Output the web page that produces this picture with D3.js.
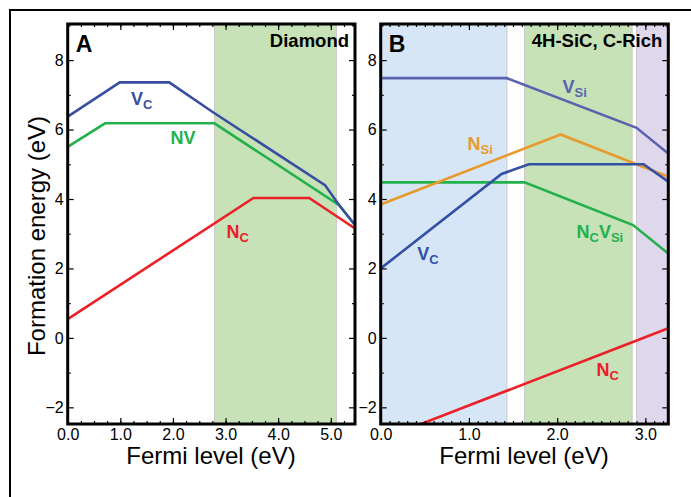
<!DOCTYPE html>
<html><head><meta charset="utf-8">
<script src="https://cdn.jsdelivr.net/npm/d3@7"></script>
<style>body{margin:0;background:#fff}svg{display:block;font-family:"Liberation Sans",Arial,Helvetica,sans-serif}</style>
</head><body><svg id="c" width="691" height="497"></svg>
<script>
// ---- data ----
const yTicks = [-2, 0, 2, 4, 6, 8];
const yMinor = [-1, 1, 3, 5, 7, 9];
const xTicksA = [0, 1, 2, 3, 4, 5];
const xTicksB = [0, 1, 2, 3];
const yDomain = [-2.48, 9.04];
const xDomainA = [0, 5.46];
const xDomainB = [0, 3.26];

// panel A (Diamond)
const bandsA = [[2.79, 5.11, "green"]];
const vcA_x = [0, 0.99, 1.93, 2.79, 4.89, 5.16, 5.46];
const vcA_y = [6.37, 7.36, 7.36, 6.47, 4.40, 3.82, 3.25];
const nvA_x = [0, 0.71, 2.79, 5.16, 5.46];
const nvA_y = [5.50, 6.18, 6.18, 3.82, 3.25];
const ncA_x = [0, 3.53, 4.59, 5.46];
const ncA_y = [0.54, 4.03, 4.03, 3.15];

// panel B (4H-SiC, C-rich)
const bandsB = [[0, 1.43, "blue"], [1.63, 2.85, "green"], [2.90, 3.26, "purple"]];
const vsiB_x = [0, 1.43, 2.90, 3.26];
const vsiB_y = [7.48, 7.48, 6.05, 5.31];
const nsiB_x = [0, 2.04, 3.26];
const nsiB_y = [3.84, 5.86, 4.64];
const vcB_x = [0, 1.37, 1.68, 2.98, 3.26];
const vcB_y = [2.00, 4.72, 5.00, 5.00, 4.50];
const ncvsiB_x = [0, 1.63, 2.86, 3.26];
const ncvsiB_y = [4.48, 4.48, 3.25, 2.43];
const ncB_x = [0, 3.26];
const ncB_y = [-2.93, 0.28];

// ---- styles ----
const bandColor = {blue: "#d6e6f6", green: "#c6e2b6", purple: "#dfd7eb"};
const C = {vc: "#3a4ea2", nv: "#22b14c", nc: "#ec2027", vsi: "#5a63ae", nsi: "#e99a2c", vcB: "#3450a5"};

const svg = d3.select("#c");
// outer frame
svg.append("rect").attr("x", 10).attr("y", 10).attr("width", 700).attr("height", 500)
  .attr("fill", "none").attr("stroke", "#000").attr("stroke-width", 2);

const T = 24, B = 424;
const y = d3.scaleLinear().domain(yDomain).range([B, T]);

function panel(L, R, xDomain, xTicks, minorStep, bands, series, labels, letter, title, titleX) {
  const x = d3.scaleLinear().domain(xDomain).range([L, R]);
  const g = svg.append("g");
  const id = "clip" + letter;
  svg.append("clipPath").attr("id", id).append("rect")
    .attr("x", L).attr("y", T).attr("width", R - L).attr("height", B - T);
  const inner = g.append("g").attr("clip-path", `url(#${id})`);
  bands.forEach(b => {
    inner.append("rect").attr("x", x(b[0])).attr("y", T - 2)
      .attr("width", x(b[1]) - x(b[0])).attr("height", B - T + 4)
      .attr("fill", bandColor[b[2]]).attr("stroke", "#cbcbcb").attr("stroke-width", 1);
  });
  const line = d3.line().x(d => x(d[0])).y(d => y(d[1]));
  series.forEach(s => {
    const pts = s.x.map((v, i) => [v, s.y[i]]);
    inner.append("path").attr("d", line(pts)).attr("fill", "none")
      .attr("stroke", s.color).attr("stroke-width", 2.6).attr("stroke-linejoin", "miter");
  });
  labels.forEach(l => {
    const t = g.append("text").attr("x", l.x).attr("y", l.y).attr("fill", l.color)
      .attr("font-weight", "bold").attr("font-size", 18);
    l.parts.forEach(p => {
      if (p[1]) t.append("tspan").attr("font-size", 13).attr("dy", 4).text(p[0]);
      else t.append("tspan").attr("dy", p[2] || 0).text(p[0]);
    });
  });
  // axes
  const minor = d3.range(xDomain[0], xDomain[1] + 1e-9, minorStep);
  const fmtX = d3.format(".1f");
  g.append("g").attr("transform", `translate(0,${B})`)
    .call(d3.axisBottom(x).tickValues(xTicks).tickSize(-6).tickPadding(5).tickFormat(fmtX));
  g.append("g").attr("transform", `translate(0,${B})`)
    .call(d3.axisBottom(x).tickValues(minor).tickSize(-3).tickFormat(""));
  g.append("g").attr("transform", `translate(0,${T})`)
    .call(d3.axisTop(x).tickValues(xTicks).tickSize(-6).tickFormat(""));
  g.append("g").attr("transform", `translate(0,${T})`)
    .call(d3.axisTop(x).tickValues(minor).tickSize(-3).tickFormat(""));
  g.append("g").attr("transform", `translate(${L},0)`)
    .call(d3.axisLeft(y).tickValues(yTicks).tickSize(-6).tickPadding(4).tickFormat(d3.format("d")));
  g.append("g").attr("transform", `translate(${L},0)`)
    .call(d3.axisLeft(y).tickValues(yMinor.filter(v => v < yDomain[1])).tickSize(-3).tickFormat(""));
  g.append("g").attr("transform", `translate(${R},0)`)
    .call(d3.axisRight(y).tickValues(yTicks).tickSize(-6).tickFormat(""));
  g.append("g").attr("transform", `translate(${R},0)`)
    .call(d3.axisRight(y).tickValues(yMinor.filter(v => v < yDomain[1])).tickSize(-3).tickFormat(""));
  g.selectAll(".domain").remove();
  g.selectAll(".tick line").attr("stroke", "#000").attr("stroke-width", 1.2);
  g.selectAll(".tick text").attr("font-size", 16).attr("fill", "#000")
    .attr("font-family", '"Liberation Sans",Arial,sans-serif');
  g.append("rect").attr("x", L).attr("y", T).attr("width", R - L).attr("height", B - T)
    .attr("fill", "none").attr("stroke", "#000").attr("stroke-width", 3);
  g.append("text").attr("x", L + 8).attr("y", 52).attr("font-weight", "bold").attr("font-size", 23).text(letter);
  g.append("text").attr("x", R - 6).attr("y", 47).attr("text-anchor", "end")
    .attr("font-weight", "bold").attr("font-size", 18.5).text(title);
  g.append("text").attr("x", titleX).attr("y", 464).attr("text-anchor", "middle")
    .attr("font-size", 24).text("Fermi level (eV)");
}

panel(67.7, 355, xDomainA, xTicksA, 0.25, bandsA,
  [{x: ncA_x, y: ncA_y, color: C.nc}, {x: nvA_x, y: nvA_y, color: C.nv}, {x: vcA_x, y: vcA_y, color: C.vc}],
  [{x: 131, y: 105, color: C.vc, parts: [["V"], ["C", 1]]},
   {x: 170.5, y: 144, color: C.nv, parts: [["NV"]]},
   {x: 226.5, y: 238, color: C.nc, parts: [["N"], ["C", 1]]}],
  "A", "Diamond", 211);

panel(380.7, 668.3, xDomainB, xTicksB, 0.1, bandsB,
  [{x: ncB_x, y: ncB_y, color: C.nc}, {x: ncvsiB_x, y: ncvsiB_y, color: C.nv},
   {x: nsiB_x, y: nsiB_y, color: C.nsi}, {x: vcB_x, y: vcB_y, color: C.vcB},
   {x: vsiB_x, y: vsiB_y, color: C.vsi}],
  [{x: 562.5, y: 93, color: C.vsi, parts: [["V"], ["Si", 1]]},
   {x: 467.5, y: 150, color: C.nsi, parts: [["N"], ["Si", 1]]},
   {x: 576.5, y: 238, color: C.nv, parts: [["N"], ["C", 1], ["V", 0, -4], ["Si", 1]]},
   {x: 417.3, y: 260, color: C.vcB, parts: [["V"], ["C", 1]]},
   {x: 596.5, y: 376, color: C.nc, parts: [["N"], ["C", 1]]}],
  "B", "4H-SiC, C-Rich", 524);

svg.append("text").attr("transform", "translate(45,236) rotate(-90)").attr("text-anchor", "middle")
  .attr("font-size", 24).text("Formation energy (eV)");
</script></body></html>
